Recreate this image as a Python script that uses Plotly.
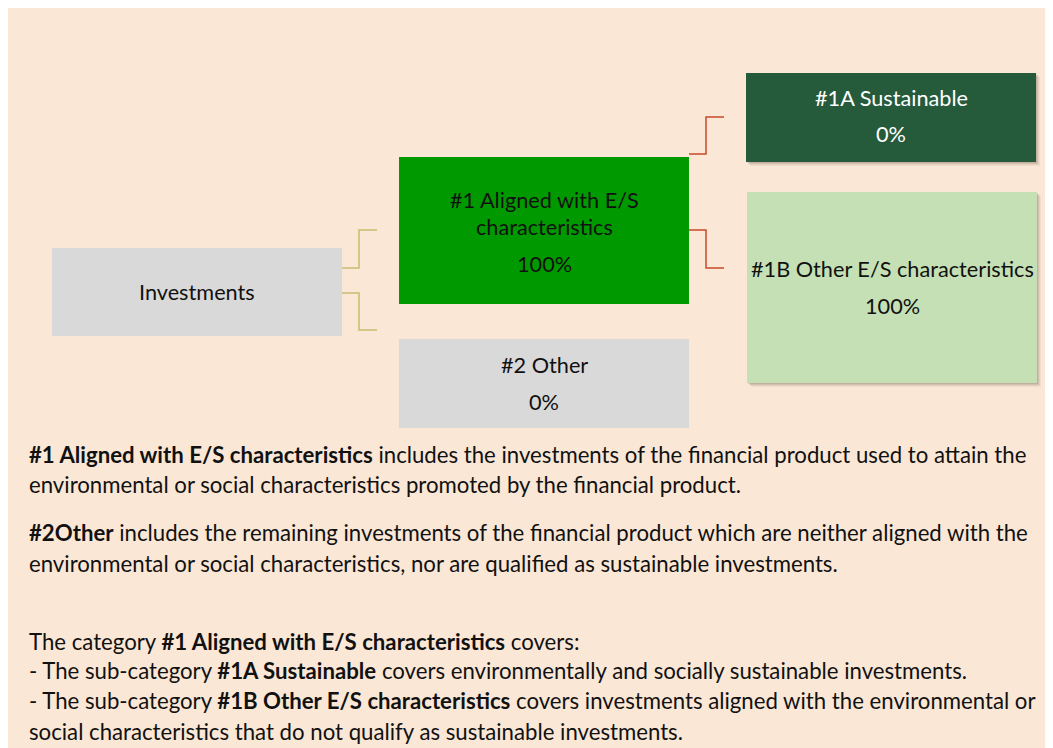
import plotly.graph_objects as go

# ---------------- data ----------------
box_ids = ["inv", "aligned", "other", "sust", "otheres"]
box_title_lines = [
    ["Investments"],
    ["#1 Aligned with E/S", "characteristics"],
    ["#2 Other"],
    ["#1A Sustainable"],
    ["#1B Other E/S characteristics"],
]
box_shares = [None, 100, 0, 0, 100]  # percent

body_lines = [
    "<b>#1 Aligned with E/S characteristics</b> includes the investments of the financial product used to attain the",
    "environmental or social characteristics promoted by the financial product.",
    "<b>#2Other</b> includes the remaining investments of the financial product which are neither aligned with the",
    "environmental or social characteristics, nor are qualified as sustainable investments.",
    "The category <b>#1 Aligned with E/S characteristics</b> covers:",
    "- The sub-category <b>#1A Sustainable</b> covers environmentally and socially sustainable investments.",
    "- The sub-category <b>#1B Other E/S characteristics</b> covers investments aligned with the environmental or",
    "social characteristics that do not qualify as sustainable investments.",
]

# ---------------- layout / styles ----------------
BG = "#FAE7D6"
FONT = "Lato"
geom = {  # x0, x1, y0, y1 (pixel space of the page)
    "inv": (52, 342, 248, 336),
    "aligned": (399, 689, 157, 304),
    "other": (399, 689, 339, 428),
    "sust": (746, 1036, 73, 162),
    "otheres": (747, 1037, 192, 383),
}
fill = {"inv": "#D9D9D9", "aligned": "#009900", "other": "#D9D9D9",
        "sust": "#255A3B", "otheres": "#C5E0B4"}
txtcol = {"inv": "#111111", "aligned": "#111111", "other": "#111111",
          "sust": "#FFFFFF", "otheres": "#111111"}
shadow = {"sust": True, "otheres": True}
title_y = {"inv": [292], "aligned": [200, 227], "other": [365],
           "sust": [98], "otheres": [269]}
share_y = {"aligned": 264, "other": 402, "sust": 134, "otheres": 306}
BOX_FS = 21.7
BODY_FS = 22.2
body_y = [454, 484, 532, 563, 641, 670, 700, 731]
BODY_X = 27

OLIVE = "#C9BD70"
RED = "#C84B2A"
connectors = [
    (OLIVE, [(342, 268), (359, 268), (359, 230), (377, 230)]),
    (OLIVE, [(342, 293), (359, 293), (359, 330), (377, 330)]),
    (RED, [(689, 154), (706, 154), (706, 117), (724, 117)]),
    (RED, [(689, 230), (706, 230), (706, 268), (724, 268)]),
]

fig = go.Figure()
fig.add_trace(go.Scatter(x=[], y=[], mode="markers", showlegend=False, hoverinfo="skip"))

shapes = []
annotations = []

for bid, lines, share in zip(box_ids, box_title_lines, box_shares):
    x0, x1, y0, y1 = geom[bid]
    if shadow.get(bid):
        for k, op in [(4, 0.06), (3, 0.08), (2, 0.10), (1, 0.12)]:
            shapes.append(dict(type="rect", xref="x", yref="y",
                               x0=x0 + k, x1=x1 + k, y0=y0 + k, y1=y1 + k,
                               fillcolor="rgba(80,60,40,%.2f)" % op,
                               line=dict(width=0), layer="below"))
    shapes.append(dict(type="rect", xref="x", yref="y", x0=x0, x1=x1, y0=y0, y1=y1,
                       fillcolor=fill[bid], line=dict(width=0), layer="below"))
    cx = (x0 + x1) / 2
    for ln, yy in zip(lines, title_y[bid]):
        annotations.append(dict(x=cx, y=yy, xref="x", yref="y", text=ln,
                                showarrow=False, xanchor="center", yanchor="middle",
                                font=dict(family=FONT, size=BOX_FS, color=txtcol[bid])))
    if share is not None:
        annotations.append(dict(x=cx, y=share_y[bid], xref="x", yref="y",
                                text=f"{share}%", showarrow=False,
                                xanchor="center", yanchor="middle",
                                font=dict(family=FONT, size=BOX_FS, color=txtcol[bid])))

for col, pts in connectors:
    path = "M " + " L ".join(f"{x},{y}" for x, y in pts)
    shapes.append(dict(type="path", xref="x", yref="y", path=path,
                       line=dict(color=col, width=1.5)))

for ln, yy in zip(body_lines, body_y):
    annotations.append(dict(x=BODY_X, y=yy, xref="x", yref="y", text=ln,
                            showarrow=False, xanchor="left", yanchor="middle",
                            font=dict(family=FONT, size=BODY_FS, color="#111111")))

fig.update_layout(
    width=1053, height=740,
    margin=dict(l=0, r=0, t=0, b=0),
    paper_bgcolor=BG, plot_bgcolor=BG,
    xaxis=dict(range=[8, 1061], visible=False, fixedrange=True),
    yaxis=dict(range=[748, 8], visible=False, fixedrange=True),
    shapes=shapes, annotations=annotations,
    showlegend=False,
)

fig.write_html("out.html")
